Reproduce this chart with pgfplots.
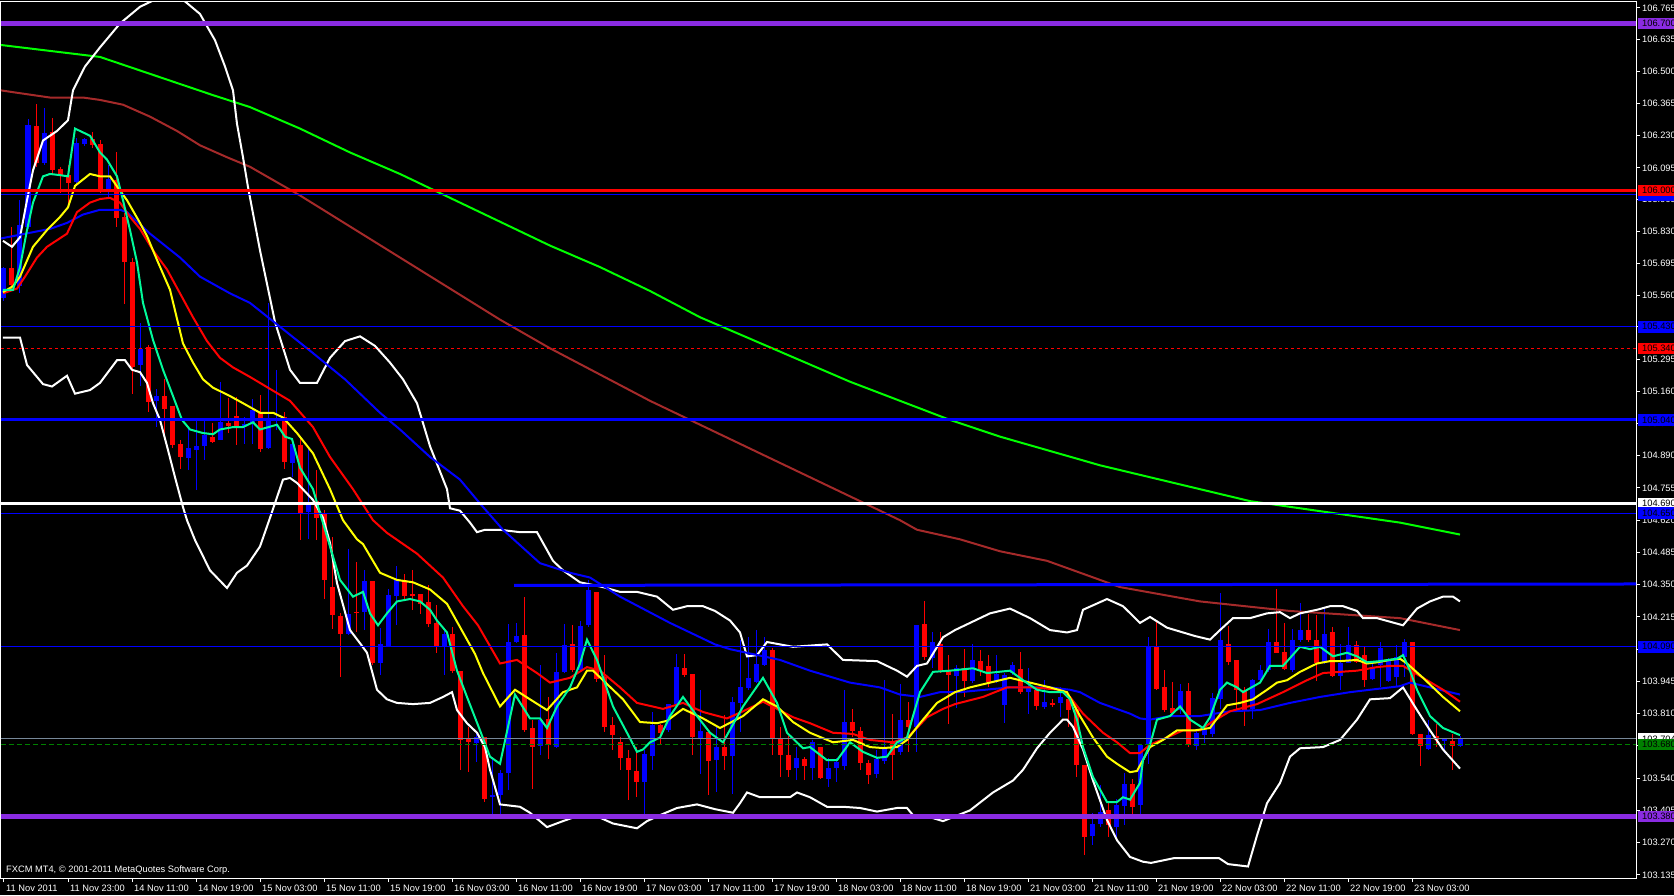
\documentclass[border=0pt]{standalone}
\usepackage{fontspec}
\setmainfont{Liberation Sans}
\usepackage{pgfplots}
\usepackage{pgfplotstable}
\pgfplotsset{compat=1.18}
\definecolor{mtblue}{RGB}{0,0,255}
\definecolor{mtred}{RGB}{255,0,0}
\definecolor{mtpurple}{RGB}{138,43,226}
\definecolor{mtbrown}{RGB}{165,42,42}
\definecolor{mtlime}{RGB}{0,255,0}
\definecolor{mtspring}{RGB}{0,250,154}
\definecolor{mtyellow}{RGB}{255,255,0}
\definecolor{mtgrey}{RGB}{119,136,153}
\definecolor{mtgreen}{RGB}{0,128,0}
\newcommand{\mtfont}{\fontsize{9.3}{11}\selectfont}

% candles: i open high low close
\pgfplotstableread{
i o h l c
0 105.550 105.680 105.540 105.675
2 105.600 105.960 105.570 105.856
3 105.850 106.300 105.840 106.275
5 106.115 106.349 106.107 106.243
9 106.035 106.220 106.020 106.200
10 106.198 106.220 106.190 106.215
13 106.006 106.107 105.975 106.049
17 105.270 105.444 105.180 105.340
19 105.120 105.170 105.012 105.140
23 104.879 105.012 104.830 104.921
24 104.914 105.040 104.747 104.931
25 104.930 105.040 104.872 104.977
27 104.956 105.200 104.956 105.033
30 105.015 105.054 104.942 105.025
31 105.026 105.130 104.942 105.082
33 104.924 105.530 104.920 105.043
34 105.045 105.250 105.000 105.050
36 104.861 104.963 104.802 104.939
38 104.656 104.928 104.544 104.698
43 104.146 104.500 104.140 104.230
45 104.237 104.412 104.160 104.366
47 104.021 104.167 103.972 104.104
48 104.094 104.335 104.090 104.307
49 104.303 104.428 104.181 104.373
55 104.090 104.160 103.972 104.144
59 103.686 103.730 103.609 103.713
61 103.462 103.630 103.386 103.469
62 103.469 103.574 103.386 103.560
63 103.563 104.186 103.490 104.111
64 104.111 104.188 104.104 104.135
67 103.674 104.014 103.637 103.783
69 103.672 104.063 103.665 103.986
70 103.986 104.188 103.979 104.097
72 103.993 104.200 103.990 104.178
73 104.181 104.370 104.174 104.328
80 103.525 103.658 103.379 103.641
81 103.634 103.818 103.574 103.763
83 103.742 103.853 103.735 103.850
84 103.853 104.058 103.846 104.007
87 103.704 103.912 103.560 103.737
89 103.618 103.756 103.483 103.672
91 103.633 103.881 103.476 103.860
92 103.853 104.118 103.735 103.923
93 103.916 104.132 103.909 103.958
94 103.944 104.160 103.937 104.018
95 104.014 104.132 104.007 104.077
99 103.584 103.672 103.532 103.623
101 103.584 103.700 103.535 103.693
103 103.539 103.623 103.504 103.585
104 103.585 103.623 103.525 103.609
105 103.591 103.909 103.574 103.777
109 103.560 103.658 103.539 103.623
110 103.612 103.954 103.602 103.672
112 103.647 103.937 103.637 103.784
114 103.756 104.181 103.651 104.181
116 104.046 104.153 104.000 104.111
119 103.969 104.014 103.832 104.002
121 103.948 104.102 103.940 104.037
124 103.948 104.056 103.940 103.976
125 103.846 103.979 103.770 103.972
126 103.979 104.028 103.972 104.014
128 103.902 104.000 103.811 103.920
130 103.839 103.951 103.832 103.860
132 103.856 103.923 103.797 103.881
136 103.298 103.393 103.260 103.351
137 103.348 103.511 103.337 103.400
139 103.337 103.455 103.295 103.427
140 103.423 103.560 103.344 103.518
142 103.427 103.679 103.380 103.679
143 103.679 104.130 103.602 104.088
147 103.828 103.937 103.811 103.905
149 103.676 103.742 103.658 103.731
150 103.721 103.755 103.686 103.744
151 103.725 103.895 103.714 103.874
152 103.874 104.317 103.832 104.118
156 103.832 103.958 103.790 103.951
157 103.951 104.014 103.944 103.993
158 103.993 104.167 103.986 104.111
161 103.993 104.163 103.986 104.118
162 104.118 104.275 104.111 104.160
165 104.028 104.251 104.021 104.146
167 103.969 104.104 103.909 104.021
168 104.023 104.174 104.021 104.097
171 103.955 104.028 103.951 104.007
172 104.014 104.112 103.923 104.084
173 103.948 104.042 103.944 104.035
174 103.965 104.097 103.923 104.049
175 104.049 104.125 103.965 104.111
178 103.663 103.783 103.658 103.720
180 103.697 103.707 103.647 103.703
182 103.675 103.716 103.672 103.703
}\upbars

\pgfplotstableread{
i o h l c
1 105.675 105.850 105.585 105.605
4 106.270 106.363 106.100 106.115
6 106.247 106.303 106.066 106.087
7 106.091 106.100 105.989 106.066
8 106.066 106.107 105.947 106.033
11 106.215 106.247 106.180 106.191
12 106.195 106.212 105.989 106.006
14 106.047 106.163 105.850 105.887
15 105.890 105.905 105.528 105.703
16 105.703 105.720 105.151 105.263
18 105.347 105.354 105.075 105.116
20 105.140 105.214 104.956 105.088
21 105.098 105.100 104.921 104.935
22 104.942 104.956 104.837 104.886
26 104.970 105.026 104.942 104.949
28 105.029 105.130 104.984 105.015
29 105.056 105.137 104.935 105.012
32 105.075 105.144 104.907 104.918
35 105.051 105.075 104.837 104.865
37 104.935 104.963 104.537 104.652
39 104.702 104.830 104.537 104.628
40 104.649 104.663 104.293 104.370
41 104.342 104.551 104.167 104.223
42 104.219 104.230 103.965 104.146
44 104.237 104.446 104.153 104.233
46 104.366 104.366 104.014 104.021
50 104.370 104.398 104.293 104.303
51 104.311 104.411 104.244 104.303
52 104.314 104.314 104.230 104.272
53 104.279 104.349 104.174 104.188
54 104.191 104.265 104.063 104.090
56 104.144 104.172 103.980 103.990
57 103.989 103.989 103.574 103.700
58 103.709 103.755 103.567 103.693
60 103.714 103.714 103.441 103.455
65 104.139 104.300 103.735 103.742
66 103.749 103.783 103.497 103.672
68 103.788 103.881 103.623 103.679
71 104.104 104.181 103.986 103.993
74 104.321 104.321 103.944 103.958
75 103.965 104.056 103.735 103.755
76 103.762 103.797 103.658 103.721
77 103.693 103.714 103.574 103.623
78 103.623 103.658 103.448 103.574
79 103.571 103.672 103.462 103.525
82 103.763 103.769 103.686 103.728
85 104.004 104.058 103.965 103.972
86 103.979 103.979 103.637 103.714
88 103.735 103.735 103.469 103.613
90 103.672 103.804 103.574 103.633
96 104.077 104.084 103.637 103.707
97 103.707 103.756 103.546 103.637
98 103.637 103.716 103.546 103.577
100 103.620 103.630 103.532 103.591
102 103.672 103.672 103.539 103.543
106 103.777 103.832 103.714 103.739
107 103.737 103.756 103.574 103.605
108 103.605 103.616 103.518 103.553
111 103.693 103.811 103.532 103.637
113 103.786 103.860 103.651 103.756
115 104.185 104.282 104.035 104.049
117 104.104 104.153 103.980 103.993
118 103.995 104.056 103.769 103.972
120 104.004 104.083 103.881 103.948
122 104.032 104.077 103.970 103.990
123 104.009 104.056 103.923 103.944
127 103.996 104.070 103.895 103.902
129 103.912 103.916 103.828 103.842
131 103.853 103.870 103.839 103.850
133 103.874 103.888 103.755 103.825
134 103.832 103.839 103.546 103.595
135 103.595 103.595 103.218 103.295
138 103.407 103.441 103.295 103.344
141 103.518 103.539 103.379 103.420
144 104.094 104.202 103.909 103.916
145 103.923 103.993 103.818 103.825
146 103.835 103.944 103.804 103.814
148 103.905 103.937 103.672 103.679
153 104.104 104.177 104.014 104.028
154 104.037 104.037 103.832 103.912
155 103.909 103.923 103.758 103.825
159 104.111 104.331 104.063 104.065
160 104.070 104.191 103.993 103.996
163 104.160 104.227 104.111 104.121
164 104.118 104.223 103.948 104.021
166 104.152 104.174 103.965 103.969
169 104.097 104.116 104.021 104.028
170 104.056 104.093 103.923 103.951
176 104.111 104.111 103.720 103.725
177 103.725 103.725 103.591 103.675
179 103.716 103.769 103.672 103.700
181 103.697 103.725 103.577 103.675
}\downbars

% indicator lines: x in chart pixels, y price
\pgfplotstableread{
x y
1 106.61
100 106.56
213 106.40
250 106.35
300 106.26
350 106.16
400 106.07
450 105.97
500 105.87
550 105.77
600 105.68
650 105.58
700 105.47
750 105.38
800 105.29
850 105.20
900 105.12
950 105.04
1000 104.97
1050 104.91
1100 104.85
1150 104.80
1200 104.75
1250 104.70
1300 104.67
1350 104.64
1400 104.61
1460 104.56
}\maLime

\pgfplotstableread{
x y
1 106.42
17 106.41
50 106.39
83 106.39
100 106.38
123 106.36
150 106.31
177 106.25
200 106.19
227 106.14
250 106.10
300 105.98
350 105.85
400 105.72
450 105.59
500 105.46
550 105.34
600 105.23
650 105.12
700 105.02
750 104.92
800 104.82
850 104.72
900 104.62
917 104.58
960 104.54
1000 104.49
1047 104.45
1120 104.34
1200 104.28
1290 104.24
1400 104.21
1460 104.16
}\maBrown

\pgfplotstableread{
x y
1 105.80
50 105.84
67 105.865
83 105.90
100 105.92
120 105.92
127 105.91
150 105.82
180 105.72
200 105.64
230 105.57
250 105.53
280 105.43
310 105.33
345 105.21
380 105.07
400 105.00
430 104.885
460 104.79
480 104.69
503 104.58
540 104.44
570 104.40
590 104.38
620 104.30
670 104.19
715 104.10
730 104.08
780 104.035
810 103.99
850 103.94
880 103.92
900 103.89
920 103.88
940 103.90
960 103.90
1010 103.92
1050 103.92
1070 103.91
1080 103.90
1100 103.855
1130 103.81
1140 103.79
1150 103.785
1170 103.80
1200 103.80
1230 103.82
1260 103.825
1290 103.855
1320 103.88
1350 103.90
1390 103.92
1400 103.925
1410 103.94
1430 103.92
1460 103.89
}\maBlue

\pgfplotstableread{
x y
3 105.57
17 105.59
25 105.64
37 105.72
47 105.765
67 105.82
77 105.91
90 105.95
100 105.965
110 105.97
120 105.95
130 105.89
140 105.84
153 105.75
167 105.67
180 105.57
193 105.47
207 105.37
220 105.30
233 105.26
250 105.22
290 105.12
313 105.01
330 104.885
353 104.75
373 104.62
387 104.567
417 104.48
443 104.38
463 104.26
478 104.18
500 104.02
517 104.035
537 103.98
550 103.94
570 103.96
587 104.005
600 103.99
620 103.92
637 103.855
663 103.83
683 103.855
703 103.817
718 103.80
727 103.79
743 103.82
763 103.86
777 103.83
793 103.795
810 103.77
833 103.73
853 103.725
870 103.70
893 103.69
907 103.71
917 103.75
927 103.795
943 103.83
955 103.85
983 103.88
1007 103.92
1033 103.92
1060 103.91
1070 103.88
1083 103.81
1103 103.73
1117 103.69
1130 103.645
1140 103.645
1150 103.68
1167 103.71
1183 103.74
1200 103.74
1210 103.77
1230 103.82
1257 103.85
1283 103.90
1307 103.95
1323 103.98
1357 103.99
1377 104.005
1390 104.01
1403 104.01
1423 103.96
1443 103.91
1460 103.86
}\maRed

\pgfplotstableread{
x y
3 105.575
13 105.60
20 105.64
33 105.765
47 105.835
60 105.89
68 105.93
75 106.02
90 106.07
100 106.06
110 106.06
120 106.00
127 105.96
140 105.865
147 105.81
157 105.71
170 105.585
183 105.36
193 105.28
203 105.21
213 105.175
230 105.14
243 105.11
260 105.07
273 105.07
283 105.05
297 104.985
313 104.90
330 104.75
343 104.62
357 104.54
363 104.52
380 104.40
397 104.37
413 104.36
430 104.33
447 104.27
463 104.15
475 104.06
483 103.98
500 103.84
515 103.91
530 103.87
547 103.825
563 103.90
577 103.92
587 103.99
593 103.99
603 103.95
623 103.87
640 103.775
657 103.77
667 103.78
683 103.83
703 103.79
720 103.75
743 103.80
763 103.87
777 103.84
793 103.775
810 103.73
833 103.69
853 103.70
870 103.67
883 103.666
897 103.67
907 103.70
920 103.77
937 103.855
955 103.90
970 103.92
990 103.94
1010 103.96
1030 103.94
1050 103.92
1067 103.90
1080 103.80
1093 103.71
1107 103.63
1117 103.60
1130 103.565
1137 103.57
1150 103.67
1163 103.70
1177 103.74
1195 103.74
1210 103.75
1227 103.845
1240 103.855
1253 103.87
1267 103.91
1277 103.94
1287 103.95
1300 103.985
1317 104.02
1330 104.03
1340 104.03
1357 104.035
1367 104.02
1377 104.025
1390 104.035
1400 104.04
1407 104.02
1423 103.96
1443 103.88
1460 103.82
}\maYellow

\pgfplotstableread{
x y
3 105.585
13 105.585
20 105.68
27 105.835
33 105.95
43 106.06
50 106.07
60 106.065
68 106.06
75 106.26
90 106.23
100 106.16
107 106.13
117 106.06
123 105.96
130 105.835
137 105.70
143 105.53
153 105.375
163 105.25
173 105.14
182 105.04
190 105.00
203 104.985
213 104.98
220 105.00
233 105.01
243 105.01
253 105.03
260 105.00
277 105.02
285 104.97
292 104.96
300 104.84
313 104.75
320 104.65
330 104.51
340 104.37
353 104.30
363 104.32
370 104.23
378 104.18
387 104.23
397 104.28
410 104.29
420 104.28
430 104.245
437 104.20
447 104.15
457 103.99
467 103.88
480 103.74
490 103.63
500 103.60
515 103.89
530 103.79
540 103.79
547 103.75
557 103.84
570 103.92
580 104.02
587 104.12
597 104.035
613 103.84
627 103.73
637 103.65
643 103.66
650 103.69
660 103.71
670 103.80
683 103.88
697 103.80
710 103.73
723 103.69
743 103.84
763 103.96
777 103.855
787 103.73
803 103.665
810 103.67
827 103.615
837 103.615
850 103.69
863 103.65
877 103.625
887 103.63
897 103.69
907 103.71
913 103.80
920 103.90
933 103.985
950 103.99
973 104.00
987 103.98
1010 103.99
1023 103.95
1037 103.91
1050 103.90
1063 103.90
1070 103.87
1077 103.785
1083 103.67
1093 103.545
1107 103.44
1117 103.44
1123 103.46
1130 103.45
1140 103.52
1143 103.615
1150 103.68
1157 103.785
1170 103.80
1180 103.84
1190 103.785
1203 103.75
1210 103.795
1220 103.91
1227 103.94
1237 103.92
1243 103.90
1260 103.94
1270 104.01
1283 104.01
1300 104.09
1310 104.08
1320 104.09
1333 104.05
1347 104.065
1357 104.05
1367 104.025
1380 104.03
1397 104.04
1403 104.055
1410 103.99
1417 103.91
1430 103.80
1443 103.75
1460 103.72
}\maSpring

\pgfplotstableread{
x y
3 105.79
12 105.765
20 105.805
27 105.96
33 106.085
43 106.21
57 106.25
68 106.295
73 106.42
85 106.52
100 106.60
120 106.70
140 106.77
160 106.81
180 106.81
200 106.74
215 106.63
225 106.52
233 106.42
237 106.28
243 106.14
248 106.015
260 105.75
275 105.45
290 105.25
300 105.195
317 105.195
330 105.30
345 105.37
360 105.39
375 105.35
390 105.28
403 105.21
417 105.11
430 104.93
447 104.75
450 104.67
460 104.66
470 104.61
477 104.57
485 104.58
500 104.58
520 104.57
537 104.57
553 104.45
563 104.41
580 104.36
603 104.34
620 104.32
637 104.32
657 104.30
673 104.245
687 104.26
703 104.26
715 104.24
730 104.20
740 104.15
747 104.05
757 104.055
767 104.11
793 104.09
827 104.10
843 104.035
877 104.03
897 103.99
907 103.965
917 104.01
927 104.02
943 104.13
955 104.16
970 104.19
990 104.23
1010 104.25
1030 104.21
1050 104.16
1067 104.15
1077 104.16
1083 104.245
1107 104.29
1123 104.26
1140 104.19
1150 104.215
1167 104.17
1183 104.15
1195 104.135
1210 104.12
1220 104.16
1233 104.21
1250 104.21
1267 104.23
1280 104.235
1290 104.21
1300 104.23
1317 104.245
1330 104.26
1343 104.26
1357 104.24
1363 104.21
1377 104.21
1390 104.195
1403 104.18
1417 104.25
1430 104.28
1443 104.30
1453 104.30
1460 104.28
}\bbUpper

\pgfplotstableread{
x y
3 105.385
20 105.385
27 105.27
43 105.19
52 105.18
67 105.225
75 105.15
90 105.165
100 105.195
117 105.29
125 105.29
132 105.25
140 105.24
147 105.195
153 105.11
160 105.04
168 104.914
175 104.80
183 104.675
187 104.62
195 104.537
210 104.41
227 104.336
237 104.40
247 104.43
260 104.51
270 104.63
283 104.79
290 104.797
297 104.776
313 104.705
323 104.63
330 104.525
337 104.357
350 104.16
360 104.105
367 104.065
377 103.91
387 103.87
397 103.855
413 103.85
430 103.855
443 103.88
452 103.90
457 103.825
467 103.77
477 103.73
485 103.67
490 103.575
500 103.43
520 103.42
530 103.395
547 103.335
563 103.36
580 103.385
597 103.38
613 103.35
637 103.33
647 103.36
660 103.385
677 103.415
697 103.43
715 103.41
733 103.395
740 103.435
747 103.48
760 103.46
790 103.46
797 103.48
810 103.46
827 103.42
843 103.42
860 103.415
877 103.40
897 103.415
907 103.415
913 103.385
927 103.38
943 103.36
955 103.38
970 103.405
993 103.48
1013 103.53
1023 103.575
1037 103.665
1050 103.73
1063 103.785
1067 103.785
1073 103.755
1083 103.66
1093 103.53
1107 103.365
1117 103.28
1130 103.21
1143 103.19
1151 103.185
1174 103.205
1200 103.205
1219 103.205
1228 103.18
1248 103.17
1257 103.30
1267 103.435
1280 103.52
1290 103.63
1300 103.665
1323 103.67
1340 103.70
1357 103.785
1370 103.87
1390 103.875
1403 103.92
1417 103.825
1430 103.74
1443 103.66
1460 103.58
}\bbLower

\tikzset{
  pricebox/.style={anchor=west, inner xsep=4pt, inner ysep=0pt,
    minimum height=11.5pt, font=\mtfont, text=black, xshift=2pt},
}
\pgfplotsset{
  wick/.style={draw=none, mark=none, forget plot,
    error bars/.cd, y dir=both, y explicit, error mark=none,
    error bar style={draw=#1, solid, line width=1pt}},
  body/.style={draw=none, mark=none, forget plot,
    error bars/.cd, y dir=both, y explicit, error mark=none,
    error bar style={draw=#1, solid, line width=5pt}},
}

\begin{document}
\begin{tikzpicture}
\path[use as bounding box, fill=black] (0,0) rectangle (1674pt,895pt);
\begin{axis}[
  at={(1pt,17pt)}, anchor=south west,
  scale only axis, width=1635pt, height=876pt,
  xmin=1, xmax=1636, ymin=103.1218, ymax=106.7901,
  axis line style={white, line width=1pt},
  tick align=outside, major tick length=4pt,
  tick style={white, line width=1pt},
  xtick pos=left, ytick pos=right, yticklabel pos=right,
  xtick={4,68,132,196,260,324,388,452,516,580,644,708,772,836,900,964,1028,1092,1156,1220,1284,1348,1412},
  xticklabels={11 Nov 2011,11 Nov 23:00,14 Nov 11:00,14 Nov 19:00,15 Nov 03:00,15 Nov 11:00,15 Nov 19:00,16 Nov 03:00,16 Nov 11:00,16 Nov 19:00,17 Nov 03:00,17 Nov 11:00,17 Nov 19:00,18 Nov 03:00,18 Nov 11:00,18 Nov 19:00,21 Nov 03:00,21 Nov 11:00,21 Nov 19:00,22 Nov 03:00,22 Nov 11:00,22 Nov 19:00,23 Nov 03:00},
  ytick={106.765,106.635,106.500,106.365,106.230,106.095,105.965,105.830,105.695,105.560,105.430,105.295,105.160,105.025,104.890,104.755,104.620,104.485,104.350,104.215,104.080,103.945,103.810,103.675,103.540,103.405,103.270,103.135},
  yticklabels={106.765,106.635,106.500,106.365,106.230,106.095,105.965,105.830,105.695,105.560,105.430,105.295,105.160,105.025,104.890,104.755,104.620,104.485,104.350,104.215,104.080,103.945,103.810,103.675,103.540,103.405,103.270,103.135},
  tick label style={font=\mtfont, text=white, inner sep=0pt},
  xticklabel style={anchor=north west, xshift=2pt, yshift=-3pt},
  yticklabel style={anchor=west, xshift=2pt},
  after end axis/.code={
    \node[anchor=south west, inner sep=0pt, text=white, font=\mtfont] at (rel axis cs:0,0) [xshift=5pt, yshift=3pt] {FXCM MT4, \textcopyright{} 2001-2011 MetaQuotes Software Corp.};
    \node[pricebox, fill=mtpurple] at (axis cs:1636,106.700) {106.700};
    \node[pricebox, fill=mtblue, minimum height=8pt] at (axis cs:1636,105.975) {\phantom{105.985}};
    \node[pricebox, fill=mtred] at (axis cs:1636,106.000) {106.000};
    \node[pricebox, fill=mtblue] at (axis cs:1636,105.430) {105.430};
    \node[pricebox, fill=mtred] at (axis cs:1636,105.340) {105.340};
    \node[pricebox, fill=mtblue] at (axis cs:1636,105.040) {105.040};
    \node[pricebox, fill=white] at (axis cs:1636,104.690) {104.690};
    \node[pricebox, fill=mtblue] at (axis cs:1636,104.650) {104.650};
    \node[pricebox, fill=mtblue] at (axis cs:1636,104.090) {104.090};
    \node[pricebox, fill=white] at (axis cs:1636,103.704) {103.704};
    \node[pricebox, fill=mtgreen] at (axis cs:1636,103.680) {103.680};
    \node[pricebox, fill=mtpurple] at (axis cs:1636,103.380) {103.380};
  },
]
% candles
\addplot[wick=mtblue] table[x expr=4+8*\thisrow{i}, y expr=(\thisrow{h}+\thisrow{l})/2, y error expr=(\thisrow{h}-\thisrow{l})/2] {\upbars};
\addplot[wick=mtred] table[x expr=4+8*\thisrow{i}, y expr=(\thisrow{h}+\thisrow{l})/2, y error expr=(\thisrow{h}-\thisrow{l})/2] {\downbars};
\addplot[body=mtblue] table[x expr=4+8*\thisrow{i}, y expr=(\thisrow{o}+\thisrow{c})/2, y error expr={max(abs(\thisrow{c}-\thisrow{o})/2,0.002)}] {\upbars};
\addplot[body=mtred] table[x expr=4+8*\thisrow{i}, y expr=(\thisrow{o}+\thisrow{c})/2, y error expr={max(abs(\thisrow{c}-\thisrow{o})/2,0.002)}] {\downbars};
% moving averages and bands
\addplot[no marks, mtbrown, line width=2pt] table[x=x,y=y] {\maBrown};
\addplot[no marks, mtlime, line width=2pt] table[x=x,y=y] {\maLime};
\addplot[no marks, white, line width=2pt] table[x=x,y=y] {\bbUpper};
\addplot[no marks, white, line width=2pt] table[x=x,y=y] {\bbLower};
\addplot[no marks, mtblue, line width=2pt] table[x=x,y=y] {\maBlue};
\addplot[no marks, mtred, line width=2pt] table[x=x,y=y] {\maRed};
\addplot[no marks, mtyellow, line width=2pt] table[x=x,y=y] {\maYellow};
\addplot[no marks, mtspring, line width=2pt] table[x=x,y=y] {\maSpring};
% horizontal levels
\addplot[no marks, mtpurple, line width=5pt] coordinates {(1,106.700) (1636,106.700)};
\addplot[no marks, mtblue, line width=1pt] coordinates {(1,105.982) (1636,105.982)};
\addplot[no marks, mtred, line width=3.5pt] coordinates {(1,106.000) (1636,106.000)};
\addplot[no marks, mtblue, line width=1pt] coordinates {(1,105.430) (1636,105.430)};
\addplot[no marks, mtred, line width=1pt, dash pattern=on 3pt off 3pt] coordinates {(1,105.340) (1636,105.340)};
\addplot[no marks, mtblue, line width=3pt] coordinates {(1,105.040) (1636,105.040)};
\addplot[no marks, white, line width=3pt] coordinates {(1,104.690) (1636,104.690)};
\addplot[no marks, mtblue, line width=1pt] coordinates {(1,104.650) (1636,104.650)};
\addplot[no marks, mtblue, line width=3pt] coordinates {(514,104.347) (1636,104.353)};
\addplot[no marks, mtblue, line width=1.3pt] coordinates {(1,104.090) (1636,104.090)};
\addplot[no marks, mtgrey, line width=1pt] coordinates {(1,103.704) (1636,103.704)};
\addplot[no marks, mtgreen, line width=1pt, dash pattern=on 5pt off 3pt] coordinates {(1,103.680) (1636,103.680)};
\addplot[no marks, mtpurple, line width=5pt] coordinates {(1,103.380) (1636,103.380)};
\end{axis}
\end{tikzpicture}
\end{document}
